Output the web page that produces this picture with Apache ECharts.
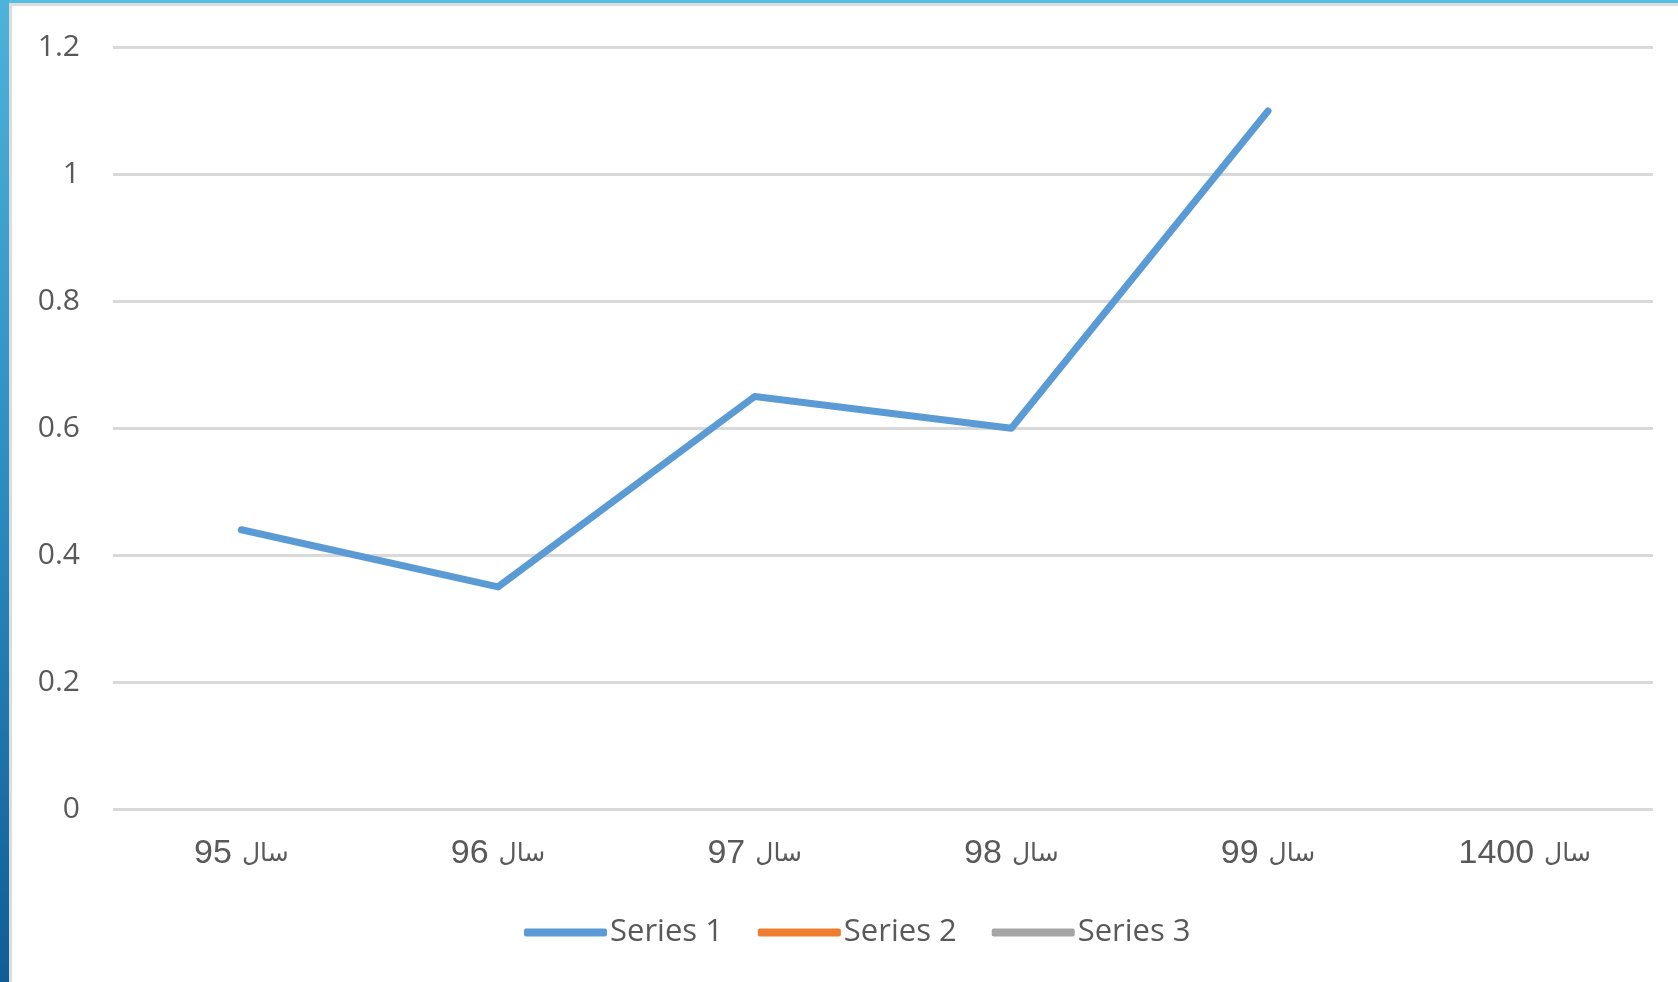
<!DOCTYPE html>
<html>
<head>
<meta charset="utf-8">
<script src="https://cdn.jsdelivr.net/npm/echarts@6/dist/echarts.min.js"></script>
<style>
html,body{margin:0;padding:0;background:#fff;}
#c{width:1678px;height:982px;}
</style>
</head>
<body>
<div id="c"></div>
<script>
const categories = ['سال 95', 'سال 96', 'سال 97', 'سال 98', 'سال 99', 'سال 1400'];
const series1 = [0.44, 0.35, 0.65, 0.60, 1.10, null];
const series2 = [null, null, null, null, null, null];
const series3 = [null, null, null, null, null, null];
const seriesNames = ['Series 1', 'Series 2', 'Series 3'];
const colors = ['#5B9BD5', '#ED7D31', '#A5A5A5'];

const chart = echarts.init(document.getElementById('c'));
const lineStyle = (c) => ({ color: c, width: 7, cap: 'round', join: 'round' });
chart.setOption({
  animation: false,
  color: colors,
  graphic: [
    { type: 'rect', left: 0, top: 0, shape: { width: 1678, height: 3 }, style: { fill: '#56BDE0' }, z: 10 },
    { type: 'rect', left: 9, top: 3, shape: { width: 1669, height: 3 }, style: { fill: '#DCDCDC' }, z: 10 },
    { type: 'rect', left: 9, top: 3, shape: { width: 3, height: 979 }, style: { fill: '#DCDCDC' }, z: 10 },
    { type: 'rect', left: 0, top: 0, shape: { width: 9, height: 982 },
      style: { fill: new echarts.graphic.LinearGradient(0, 0, 0, 1, [
        { offset: 0, color: '#4DB3DA' }, { offset: 0.5, color: '#2B8CC0' }, { offset: 1, color: '#0F5D96' }]) }, z: 10 }
  ],
  grid: { left: 113, right: 25, top: 47.5, bottom: 173, containLabel: false },
  legend: {
    data: seriesNames,
    left: 519,
    top: 912,
    itemWidth: 83,
    itemHeight: 8,
    itemGap: 35,
    icon: 'roundRect',
    textStyle: { fontFamily: 'Open Sans', fontSize: 31, color: '#595959', padding: [0, 0, 0, -2] }
  },
  xAxis: {
    type: 'category',
    data: categories,
    boundaryGap: true,
    axisLine: { show: false },
    axisTick: { show: false },
    axisLabel: {
      margin: 28,
      color: '#595959',
      formatter: (v) => {
        const i = v.indexOf(' ');
        const word = v.slice(0, i), num = v.slice(i + 1);
        return '{n|' + num + '}{s|}{a|' + word + '}';
      },
      rich: {
        n: { fontFamily: '"Liberation Sans", Arial, sans-serif', fontSize: 34, color: '#595959' },
        s: { width: 10 },
        a: { fontFamily: '"DejaVu Sans", sans-serif', fontSize: 25, color: '#595959' }
      }
    }
  },
  yAxis: {
    type: 'value',
    min: 0,
    max: 1.2,
    interval: 0.2,
    axisLine: { show: false },
    axisTick: { show: false },
    axisLabel: { fontFamily: 'Open Sans', fontSize: 30, color: '#595959', margin: 33,
      formatter: (v) => String(Math.round(v * 10) / 10) },
    splitLine: { lineStyle: { color: '#D9D9D9', width: 3 } }
  },
  series: [
    { name: seriesNames[0], type: 'line', data: series1, symbol: 'none', lineStyle: lineStyle(colors[0]), itemStyle: { color: colors[0] } },
    { name: seriesNames[1], type: 'line', data: series2, symbol: 'none', lineStyle: lineStyle(colors[1]), itemStyle: { color: colors[1] } },
    { name: seriesNames[2], type: 'line', data: series3, symbol: 'none', lineStyle: lineStyle(colors[2]), itemStyle: { color: colors[2] } }
  ]
});
</script>
</body>
</html>
